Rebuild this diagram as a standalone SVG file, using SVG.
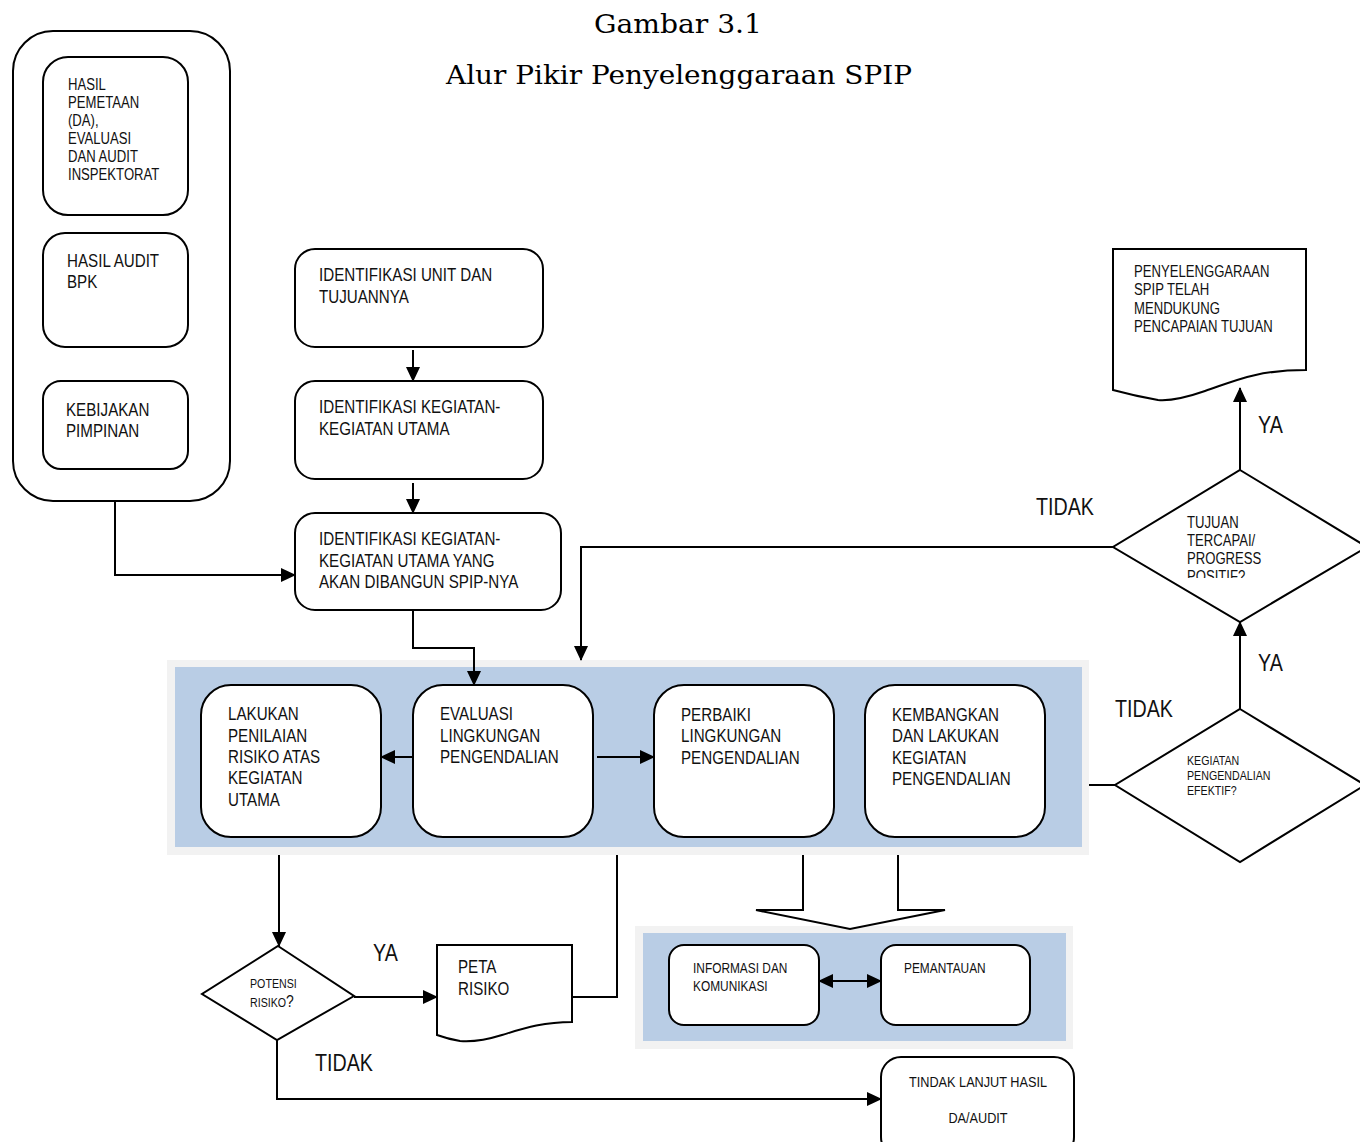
<svg xmlns="http://www.w3.org/2000/svg" width="1360" height="1142" viewBox="0 0 1360 1142">
<style>
.bx{fill:#fff;stroke:#000;stroke-width:2}
.ln{fill:none;stroke:#000;stroke-width:2}
.t{font-family:"Liberation Sans",Arial,sans-serif;fill:#111}
.t18{font-size:18.5px}
.t16{font-size:16px}
.t15{font-size:15.5px}
.t14{font-size:14.5px}
.t13{font-size:13px}
.big{font-size:24px}
.ttl{font-family:"DejaVu Serif","Liberation Serif",serif;font-size:26px;fill:#000}
.grey{fill:#f2f2f2}
.blue{fill:#b9cde5}
</style>
<defs>
<marker id="ah" markerUnits="userSpaceOnUse" markerWidth="16" markerHeight="14" refX="14" refY="7" orient="auto-start-reverse" viewBox="0 0 16 14">
<path d="M0,0 L15,7 L0,14 z" fill="#000"/>
</marker>
<clipPath id="dclip"><rect x="1100" y="500" width="260" height="78"/></clipPath>
</defs>
<rect width="1360" height="1142" fill="#fff"/>
<g id="title">
<text class="ttl" x="678" y="33" text-anchor="middle" textLength="168" lengthAdjust="spacingAndGlyphs">Gambar 3.1</text>
<text class="ttl" x="679" y="84" text-anchor="middle" textLength="466" lengthAdjust="spacingAndGlyphs">Alur Pikir Penyelenggaraan SPIP</text>
</g>
<g id="bands">
<rect class="grey" x="167" y="660" width="922" height="195"/>
<rect class="blue" x="175" y="667" width="907" height="180"/>
<rect class="grey" x="635" y="926" width="438" height="123"/>
<rect class="blue" x="643" y="933" width="423" height="108"/>
</g>
<g id="input-panel">
<rect class="bx" x="13" y="31" width="217" height="470" rx="40"/>
</g>
<g id="hasil-pemetaan">
<rect class="bx" x="43" y="57" width="145" height="158" rx="25"/>
<text class="t t16" transform="matrix(0.82,0,0,1,68,0)"><tspan x="0" y="90">HASIL</tspan><tspan x="0" y="108">PEMETAAN</tspan><tspan x="0" y="126">(DA),</tspan><tspan x="0" y="144">EVALUASI</tspan><tspan x="0" y="162">DAN AUDIT</tspan><tspan x="0" y="180">INSPEKTORAT</tspan></text>
</g>
<g id="hasil-audit-bpk">
<rect class="bx" x="43" y="233" width="145" height="114" rx="22"/>
<text class="t t18" transform="matrix(0.82,0,0,1,67,0)"><tspan x="0" y="267">HASIL AUDIT</tspan><tspan x="0" y="288">BPK</tspan></text>
</g>
<g id="kebijakan">
<rect class="bx" x="43" y="381" width="145" height="88" rx="18"/>
<text class="t t18" transform="matrix(0.82,0,0,1,66,0)"><tspan x="0" y="416">KEBIJAKAN</tspan><tspan x="0" y="437">PIMPINAN</tspan></text>
</g>
<g id="identifikasi-unit">
<rect class="bx" x="295" y="249" width="248" height="98" rx="20"/>
<text class="t t18" transform="matrix(0.82,0,0,1,319,0)"><tspan x="0" y="281">IDENTIFIKASI UNIT DAN</tspan><tspan x="0" y="303">TUJUANNYA</tspan></text>
</g>
<g id="identifikasi-kegiatan">
<rect class="bx" x="295" y="381" width="248" height="98" rx="20"/>
<text class="t t18" transform="matrix(0.82,0,0,1,319,0)"><tspan x="0" y="413">IDENTIFIKASI KEGIATAN-</tspan><tspan x="0" y="435">KEGIATAN UTAMA</tspan></text>
</g>
<g id="identifikasi-spip">
<rect class="bx" x="295" y="513" width="266" height="97" rx="20"/>
<text class="t t18" transform="matrix(0.82,0,0,1,319,0)"><tspan x="0" y="545">IDENTIFIKASI KEGIATAN-</tspan><tspan x="0" y="567">KEGIATAN UTAMA YANG</tspan><tspan x="0" y="588">AKAN DIBANGUN SPIP-NYA</tspan></text>
</g>
<g id="lakukan-penilaian">
<rect class="bx" x="201" y="685" width="180" height="152" rx="30"/>
<text class="t t18" transform="matrix(0.82,0,0,1,228,0)"><tspan x="0" y="720">LAKUKAN</tspan><tspan x="0" y="742">PENILAIAN</tspan><tspan x="0" y="763">RISIKO ATAS</tspan><tspan x="0" y="784">KEGIATAN</tspan><tspan x="0" y="806">UTAMA</tspan></text>
</g>
<g id="evaluasi">
<rect class="bx" x="413" y="685" width="180" height="152" rx="30"/>
<text class="t t18" transform="matrix(0.82,0,0,1,440,0)"><tspan x="0" y="720">EVALUASI</tspan><tspan x="0" y="742">LINGKUNGAN</tspan><tspan x="0" y="763">PENGENDALIAN</tspan></text>
</g>
<g id="perbaiki">
<rect class="bx" x="654" y="685" width="180" height="152" rx="30"/>
<text class="t t18" transform="matrix(0.82,0,0,1,681,0)"><tspan x="0" y="721">PERBAIKI</tspan><tspan x="0" y="742">LINGKUNGAN</tspan><tspan x="0" y="764">PENGENDALIAN</tspan></text>
</g>
<g id="kembangkan">
<rect class="bx" x="865" y="685" width="180" height="152" rx="30"/>
<text class="t t18" transform="matrix(0.82,0,0,1,892,0)"><tspan x="0" y="721">KEMBANGKAN</tspan><tspan x="0" y="742">DAN LAKUKAN</tspan><tspan x="0" y="764">KEGIATAN</tspan><tspan x="0" y="785">PENGENDALIAN</tspan></text>
</g>
<g id="penyelenggaraan-doc">
<path class="bx" d="M1113,249 H1306 V370 C1255,370 1232,382 1205,391 C1185,398 1170,401 1158,400 Q1135,396 1113,390 Z"/>
<text class="t t16" transform="matrix(0.82,0,0,1,1134,0)"><tspan x="0" y="277">PENYELENGGARAAN</tspan><tspan x="0" y="295">SPIP TELAH</tspan><tspan x="0" y="314">MENDUKUNG</tspan><tspan x="0" y="332">PENCAPAIAN  TUJUAN</tspan></text>
</g>
<g id="tujuan-tercapai">
<path class="bx" d="M1240,470 L1367,547 L1240,622 L1113,547 Z"/>
<g clip-path="url(#dclip)">
<text class="t t16" transform="matrix(0.82,0,0,1,1187,0)"><tspan x="0" y="528">TUJUAN</tspan><tspan x="0" y="546">TERCAPAI/</tspan><tspan x="0" y="564">PROGRESS</tspan><tspan x="0" y="582">POSITIF?</tspan></text>
</g>
</g>
<g id="kegiatan-efektif">
<path class="bx" d="M1240,709 L1365,785 L1240,862 L1115,785 Z"/>
<text class="t t13" transform="matrix(0.82,0,0,1,1187,0)"><tspan x="0" y="765">KEGIATAN</tspan><tspan x="0" y="780">PENGENDALIAN</tspan><tspan x="0" y="795">EFEKTIF?</tspan></text>
</g>
<g id="potensi-risiko">
<path class="bx" d="M278,946 L354,996 L277,1040 L202,994 Z"/>
<text class="t t13" transform="matrix(0.82,0,0,1,250,0)"><tspan x="0" y="988">POTENSI</tspan><tspan x="0" y="1007">RISIKO<tspan style="font-size:17px">?</tspan></tspan></text>
</g>
<g id="peta-risiko">
<path class="bx" d="M437,945 H572 V1022 C542,1022 522,1029 502,1035 C486,1040 472,1042 460,1041 Q448,1039 437,1035 Z"/>
<text class="t t18" transform="matrix(0.82,0,0,1,458,0)"><tspan x="0" y="973">PETA</tspan><tspan x="0" y="995">RISIKO</tspan></text>
</g>
<g id="informasi">
<rect class="bx" x="669" y="945" width="150" height="80" rx="15"/>
<text class="t t14" transform="matrix(0.82,0,0,1,693,0)"><tspan x="0" y="973">INFORMASI DAN</tspan><tspan x="0" y="991">KOMUNIKASI</tspan></text>
</g>
<g id="pemantauan">
<rect class="bx" x="881" y="945" width="149" height="80" rx="15"/>
<text class="t t14" transform="matrix(0.82,0,0,1,904,0)" x="0" y="973">PEMANTAUAN</text>
</g>
<g id="tindak-lanjut">
<rect class="bx" x="881" y="1057" width="193" height="100" rx="20"/>
<text class="t t15" text-anchor="middle" transform="matrix(0.82,0,0,1,978,0)"><tspan x="0" y="1087">TINDAK LANJUT HASIL</tspan><tspan x="0" y="1123">DA/AUDIT</tspan></text>
</g>
<g id="connectors">
<path class="ln" d="M115,501 V575 H295" marker-end="url(#ah)"/>
<path class="ln" d="M413,350 V381" marker-end="url(#ah)"/>
<path class="ln" d="M413,483 V513" marker-end="url(#ah)"/>
<path class="ln" d="M413,610 V648 H474 V685" marker-end="url(#ah)"/>
<path class="ln" d="M1113,547 H581 V660" marker-end="url(#ah)"/>
<path class="ln" d="M413,757 H381" marker-end="url(#ah)"/>
<path class="ln" d="M597,757 H654" marker-end="url(#ah)"/>
<path class="ln" d="M1089,785 H1115"/>
<path class="ln" d="M1240,709 V622" marker-end="url(#ah)"/>
<path class="ln" d="M1240,470 V388" marker-end="url(#ah)"/>
<path class="ln" d="M279,855 V946" marker-end="url(#ah)"/>
<path class="ln" d="M354,997 H437" marker-end="url(#ah)"/>
<path class="ln" d="M572,997 H617 V855"/>
<path class="ln" d="M277,1040 V1099 H881" marker-end="url(#ah)"/>
<path class="ln" d="M819,981 H881" marker-start="url(#ah)" marker-end="url(#ah)"/>
<path class="bx" d="M803,855 V910 H756 L850,929 L945,910 H898 V855"/>
</g>
<g id="labels">
<text class="t big" transform="matrix(0.82,0,0,1,1036,0)" x="0" y="515">TIDAK</text>
<text class="t big" transform="matrix(0.82,0,0,1,1258,0)" x="0" y="433">YA</text>
<text class="t big" transform="matrix(0.82,0,0,1,1258,0)" x="0" y="671">YA</text>
<text class="t big" transform="matrix(0.82,0,0,1,1115,0)" x="0" y="717">TIDAK</text>
<text class="t big" transform="matrix(0.82,0,0,1,373,0)" x="0" y="961">YA</text>
<text class="t big" transform="matrix(0.82,0,0,1,315,0)" x="0" y="1071">TIDAK</text>
</g>
</svg>
